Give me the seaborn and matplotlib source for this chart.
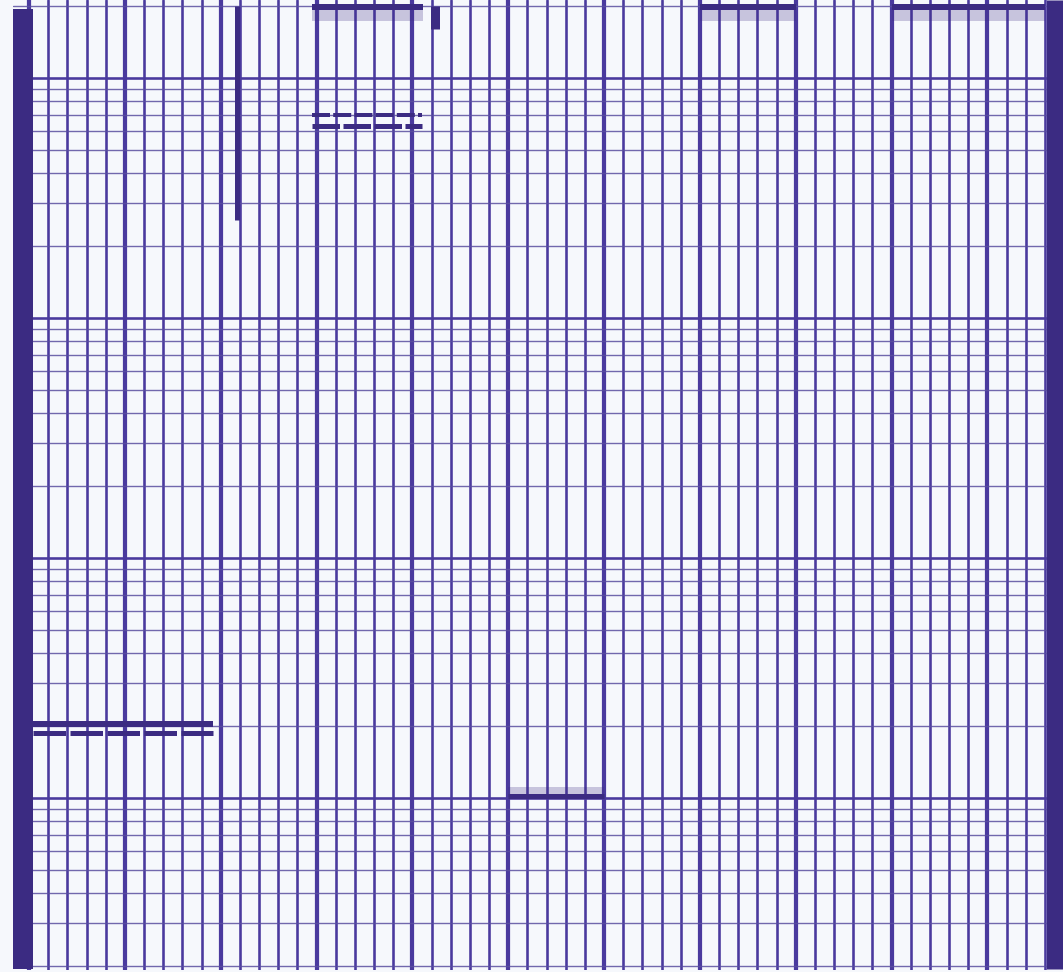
import numpy as np
import pandas as pd
import matplotlib
matplotlib.use("Agg")
import matplotlib.pyplot as plt
from matplotlib.ticker import MultipleLocator, LogLocator, NullFormatter
import seaborn as sns

sns.set_theme(style="white")

# ---- data (chart divisions on x, log value on y) ----
trace_a_x = [0.2, 9.6]
trace_a_top_y = [2.03, 2.03]
trace_a_low_y = [1.86, 1.86]

trace_b_x = [14.75, 20.5]
trace_b_top_y = [700, 700]
trace_b_low_y = [630, 630]

trace_c_x = [25.0, 30.0]
trace_c_y = [1.02, 1.02]

top_band_1_x = [14.75, 20.55]
top_band_2_x = [35.0, 40.0]
top_band_3_x = [45.0, 53.0]
top_band_y = [1975, 1975]

left_bar_x = [-0.31, -0.31]
left_bar_y = [1930, 0.194]
right_bar_x = [53.5, 53.5]
right_bar_y = [2113, 0.194]

pen_mark_1_x = [10.85, 10.85]
pen_mark_1_y = [2000, 256]
pen_mark_2_x = [21.2, 21.2]
pen_mark_2_y = [2000, 1600]

# ---- figure ----
W, H, DPI = 1063, 972, 100
paper = "#f6f8fc"
ink = "#4a3a9e"
pen = "#3b2b82"
px = 72.0 / DPI  # points per pixel

fig = plt.figure(figsize=(W / DPI, H / DPI), dpi=DPI, facecolor=paper)
ax = fig.add_axes([13 / W, 2 / H, 1 - 13 / W, 970 / H])
ax.set_facecolor(paper)
ax.set_yscale("log")
ax.set_xlim(-0.835, 53.94)
ax.set_ylim(0.192, 2113)

ax.xaxis.set_major_locator(MultipleLocator(5))
ax.xaxis.set_minor_locator(MultipleLocator(1))
ax.yaxis.set_major_locator(LogLocator(base=10, subs=(1.0,)))
ax.yaxis.set_minor_locator(LogLocator(base=10, subs=(2, 3, 4, 5, 6, 7, 8, 9)))
ax.grid(which="major", axis="x", color=ink, lw=4.2 * px)
ax.grid(which="minor", axis="x", color=ink, lw=2.6 * px)
ax.grid(which="major", axis="y", color=ink, lw=2.6 * px)
ax.grid(which="minor", axis="y", color="#5a4fa0", lw=1.4 * px, alpha=0.85)
ax.set_axisbelow(True)
ax.tick_params(which="both", length=0, labelbottom=False, labelleft=False)
ax.xaxis.set_minor_formatter(NullFormatter())
ax.yaxis.set_minor_formatter(NullFormatter())
for s in ax.spines.values():
    s.set_visible(False)

def trace(x, y, lw, color=pen, **kw):
    sns.lineplot(x=x, y=y, ax=ax, color=color, lw=lw * px, estimator=None,
                 sort=False, legend=False, solid_capstyle="butt",
                 dash_capstyle="butt", **kw)

# ink bleed below top bands
for bx in (top_band_1_x, top_band_2_x, top_band_3_x):
    trace(bx, [1850, 1850], 14, alpha=0.25)
    trace(bx, top_band_y, 6)

trace(trace_a_x, trace_a_top_y, 6)
trace(trace_a_x, trace_a_low_y, 5, linestyle=(0, (6.5, 0.9)))
trace(trace_b_x, trace_b_top_y, 4, linestyle=(0, (4.5, 0.8)))
trace(trace_b_x, trace_b_low_y, 5, linestyle=(0, (5.5, 0.7)))
trace(trace_c_x, [1.06, 1.06], 10, alpha=0.25)
trace(trace_c_x, trace_c_y, 5)

trace(left_bar_x, left_bar_y, 20)
trace(right_bar_x, right_bar_y, 17)
trace(pen_mark_1_x, pen_mark_1_y, 5)
trace(pen_mark_2_x, pen_mark_2_y, 9)

fig.savefig("out.png", dpi=DPI, facecolor=paper)
